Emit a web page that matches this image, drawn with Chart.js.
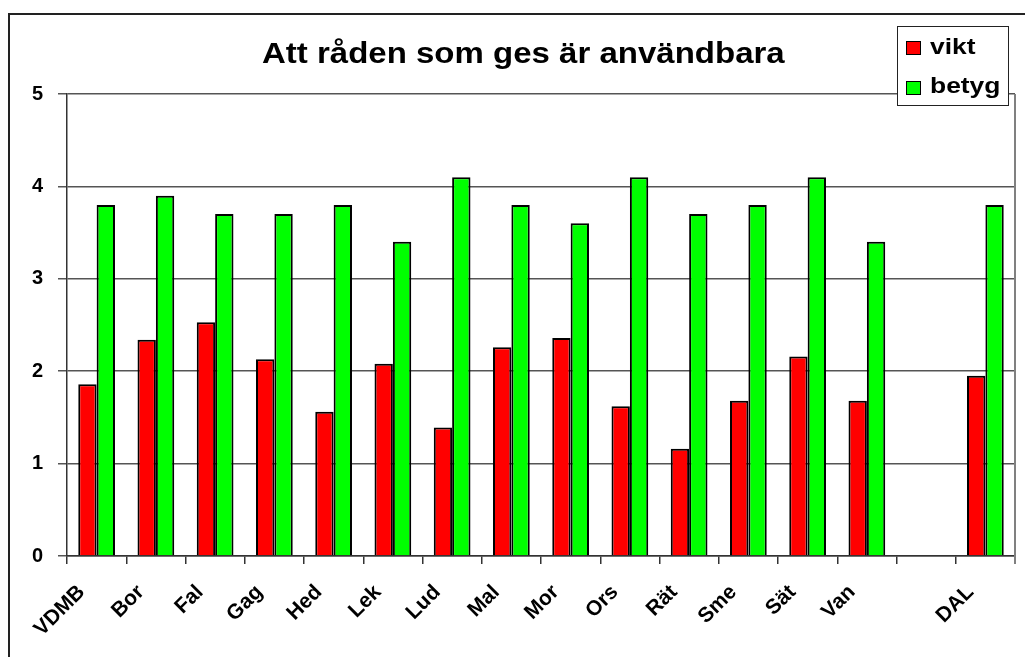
<!DOCTYPE html>
<html>
<head>
<meta charset="utf-8">
<script src="https://cdn.jsdelivr.net/npm/chart.js@4"></script>
<style>
  body { margin: 0; background: #fff; }
  #wrap { position: relative; width: 1025px; height: 657px; overflow: hidden; }
  #ram { position: absolute; left: 8px; top: 13px; width: 1030px; height: 660px; border-left: 2px solid #222; border-top: 2px solid #222; }
  .txt { position: absolute; font-family: "Liberation Sans", Arial, sans-serif; font-weight: bold; color: #000; white-space: nowrap; transform-origin: left top; }
  #titel { left: 262px; top: 39px; font-size: 29px; line-height: 29px; transform: scaleX(1.138); }
  #legend { position: absolute; left: 897px; top: 26px; width: 110px; height: 78px; border: 1px solid #222; background: #fff; }
  #legend .ruta { position: absolute; left: 8px; width: 13px; height: 12px; border: 1.5px solid #000; }
  #legend .txt { left: 32px; font-size: 22px; line-height: 22px; transform: scaleX(1.2); }
</style>
</head>
<body>
<div id="wrap">
  <div id="ram"></div>
  <canvas id="chart" width="1025" height="657"></canvas>
  <div id="titel" class="txt">Att råden som ges är användbara</div>
  <div id="legend">
    <div class="ruta" style="top:14px; background:#ff0000"></div>
    <div class="txt" style="top:9px">vikt</div>
    <div class="ruta" style="top:54px; background:#00ff00"></div>
    <div class="txt" style="top:48px">betyg</div>
  </div>
</div>
<script>
const kategorier = ["VDMB", "Bor", "Fal", "Gag", "Hed", "Lek", "Lud", "Mal", "Mor", "Ors", "Rät", "Sme", "Sät", "Van", "", "DAL"]
const vikt = [1.86, 2.34, 2.53, 2.13, 1.56, 2.08, 1.39, 2.26, 2.36, 1.62, 1.16, 1.68, 2.16, 1.68, null, 1.95]
const betyg = [3.8, 3.9, 3.7, 3.7, 3.8, 3.4, 4.1, 3.8, 3.6, 4.1, 3.7, 3.8, 4.1, 3.4, null, 3.8]
const yTicks = [0, 1, 2, 3, 4, 5]

const typsnitt = "'Liberation Sans', Arial, sans-serif"

// hogerkant pa diagramytan
const kantlinje = {
    id: 'kantlinje',
    afterDraw(chart) {
        const { ctx, chartArea } = chart
        ctx.save()
        ctx.strokeStyle = '#808080'
        ctx.lineWidth = 2
        ctx.beginPath()
        ctx.moveTo(chartArea.right, chartArea.top)
        ctx.lineTo(chartArea.right, chartArea.bottom + 8)
        ctx.stroke()
        ctx.restore()
    }
}

const grafico = document.getElementById('chart').getContext('2d');
new Chart(grafico, {
    type: 'bar',
    data: {
        labels: kategorier,
        datasets: [{
            label: 'vikt',
            data: vikt,
            backgroundColor: '#ff0000',
            borderColor: '#000000',
            borderWidth: 2,
        }, {
            label: 'betyg',
            data: betyg,
            backgroundColor: '#00ff00',
            borderColor: '#000000',
            borderWidth: 2,
        }],
    },
    options: {
        responsive: false,
        animation: false,
        layout: { padding: { left: 0, right: 10, top: 94, bottom: 0 } },
        datasets: { bar: { categoryPercentage: 0.62, barPercentage: 1 } },
        plugins: {
            legend: { display: false },
            tooltip: { enabled: false },
            title: { display: false },
        },
        scales: {
            x: {
                grid: { offset: true, drawOnChartArea: false, drawTicks: true, tickLength: 8, color: '#333', lineWidth: 1.5 },
                border: { color: '#333', width: 1.5 },
                ticks: {
                    color: '#000',
                    font: { family: typsnitt, size: 21, weight: 'bold' },
                    minRotation: 45,
                    maxRotation: 45,
                    autoSkip: false,
                    padding: 16,
                    labelOffset: -15,
                },
                afterFit(scale) { scale.height = 101 },
            },
            y: {
                min: 0,
                max: 5,
                afterBuildTicks(scale) { scale.ticks = yTicks.map((v) => ({ value: v })) },
                grid: { color: '#555', lineWidth: 1.5, tickLength: 9 },
                border: { color: '#333', width: 1.5 },
                ticks: {
                    color: '#000',
                    font: { family: typsnitt, size: 20, weight: 'bold' },
                    padding: 15,
                },
                afterFit(scale) { scale.width = 67 },
            },
        },
    },
    plugins: [kantlinje],
});
</script>
</body>
</html>
